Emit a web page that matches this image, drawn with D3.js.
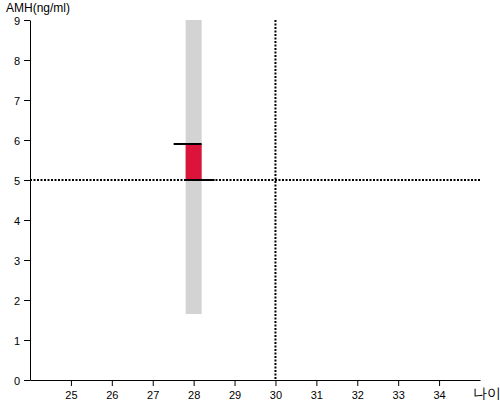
<!DOCTYPE html>
<html>
<head>
<meta charset="utf-8">
<script src="https://cdn.jsdelivr.net/npm/d3@7"></script>
<style>
  body { margin: 0; background: #fff; }
  text { font-family: "Liberation Sans", Arial, sans-serif; }
</style>
</head>
<body>
<div id="chart"></div>
<script>
// data
const ages = [28];
const normalLow = [1.65];
const normalHigh = [9];
const amhValue = [5.9];
const amhBase = [5.0];
const refAge = 30;
const refAmh = 5;
const xTicks = [25, 26, 27, 28, 29, 30, 31, 32, 33, 34];
const yTicks = [0, 1, 2, 3, 4, 5, 6, 7, 8, 9];

const width = 500, height = 400;
const svg = d3.select("#chart").append("svg")
  .attr("width", width)
  .attr("height", height);

const x = d3.scaleLinear().domain([24, 35]).range([30, 480]);
const y = d3.scaleLinear().domain([0, 9]).range([380, 20]);

const barW = 16;

// grey normal range
svg.selectAll(".range").data(ages).enter().append("rect")
  .attr("x", d => x(d) - barW / 2)
  .attr("y", (d, i) => y(normalHigh[i]))
  .attr("width", barW)
  .attr("height", (d, i) => y(normalLow[i]) - y(normalHigh[i]))
  .attr("fill", "#d3d3d3");

// red value bar
svg.selectAll(".val").data(ages).enter().append("rect")
  .attr("x", d => x(d) - barW / 2)
  .attr("y", (d, i) => y(amhValue[i]))
  .attr("width", barW)
  .attr("height", (d, i) => y(amhBase[i]) - y(amhValue[i]))
  .attr("fill", "#dc143c");

// reference dotted lines
svg.append("line")
  .attr("x1", x(24)).attr("x2", x(35))
  .attr("y1", y(refAmh)).attr("y2", y(refAmh))
  .attr("stroke", "#000").attr("stroke-width", 2)
  .attr("stroke-dasharray", "2,1.5");
svg.append("line")
  .attr("x1", x(refAge)).attr("x2", x(refAge))
  .attr("y1", y(9)).attr("y2", y(0))
  .attr("stroke", "#000").attr("stroke-width", 2)
  .attr("stroke-dasharray", "2,1.5");

// black caps on value bar
ages.forEach((d, i) => {
  svg.append("line")
    .attr("x1", x(d) - barW / 2 - 12).attr("x2", x(d) + barW / 2)
    .attr("y1", y(amhValue[i])).attr("y2", y(amhValue[i]))
    .attr("stroke", "#000").attr("stroke-width", 2);
  svg.append("line")
    .attr("x1", x(d) - barW / 2).attr("x2", x(d) + barW / 2 + 13)
    .attr("y1", y(amhBase[i])).attr("y2", y(amhBase[i]))
    .attr("stroke", "#000").attr("stroke-width", 2);
});

// axes
const xAxis = svg.append("g")
  .attr("transform", `translate(0,${y(0)})`)
  .call(d3.axisBottom(x).tickValues(xTicks).tickSizeOuter(0).tickFormat(d3.format("d")));
const yAxis = svg.append("g")
  .attr("transform", `translate(${x(24)},0)`)
  .call(d3.axisLeft(y).tickValues(yTicks).tickSizeOuter(0).tickFormat(d3.format("d")));

[xAxis, yAxis].forEach(g => {
  g.selectAll("text").attr("font-size", 11).attr("fill", "#000")
    .style("font-family", "'Liberation Sans', Arial, sans-serif");
  g.select(".domain").attr("stroke", "#000");
  g.selectAll(".tick line").attr("stroke", "#000");
});
xAxis.selectAll("text").attr("dy", "0.9em");
yAxis.selectAll("text").attr("x", -10).attr("dy", "0.4em");

// axis titles
svg.append("text")
  .attr("x", 6).attr("y", 12)
  .attr("font-size", 12)
  .text("AMH(ng/ml)");
svg.append("text")
  .attr("x", 473).attr("y", 398)
  .attr("font-size", 14)
  .text("나이");
</script>
</body>
</html>
